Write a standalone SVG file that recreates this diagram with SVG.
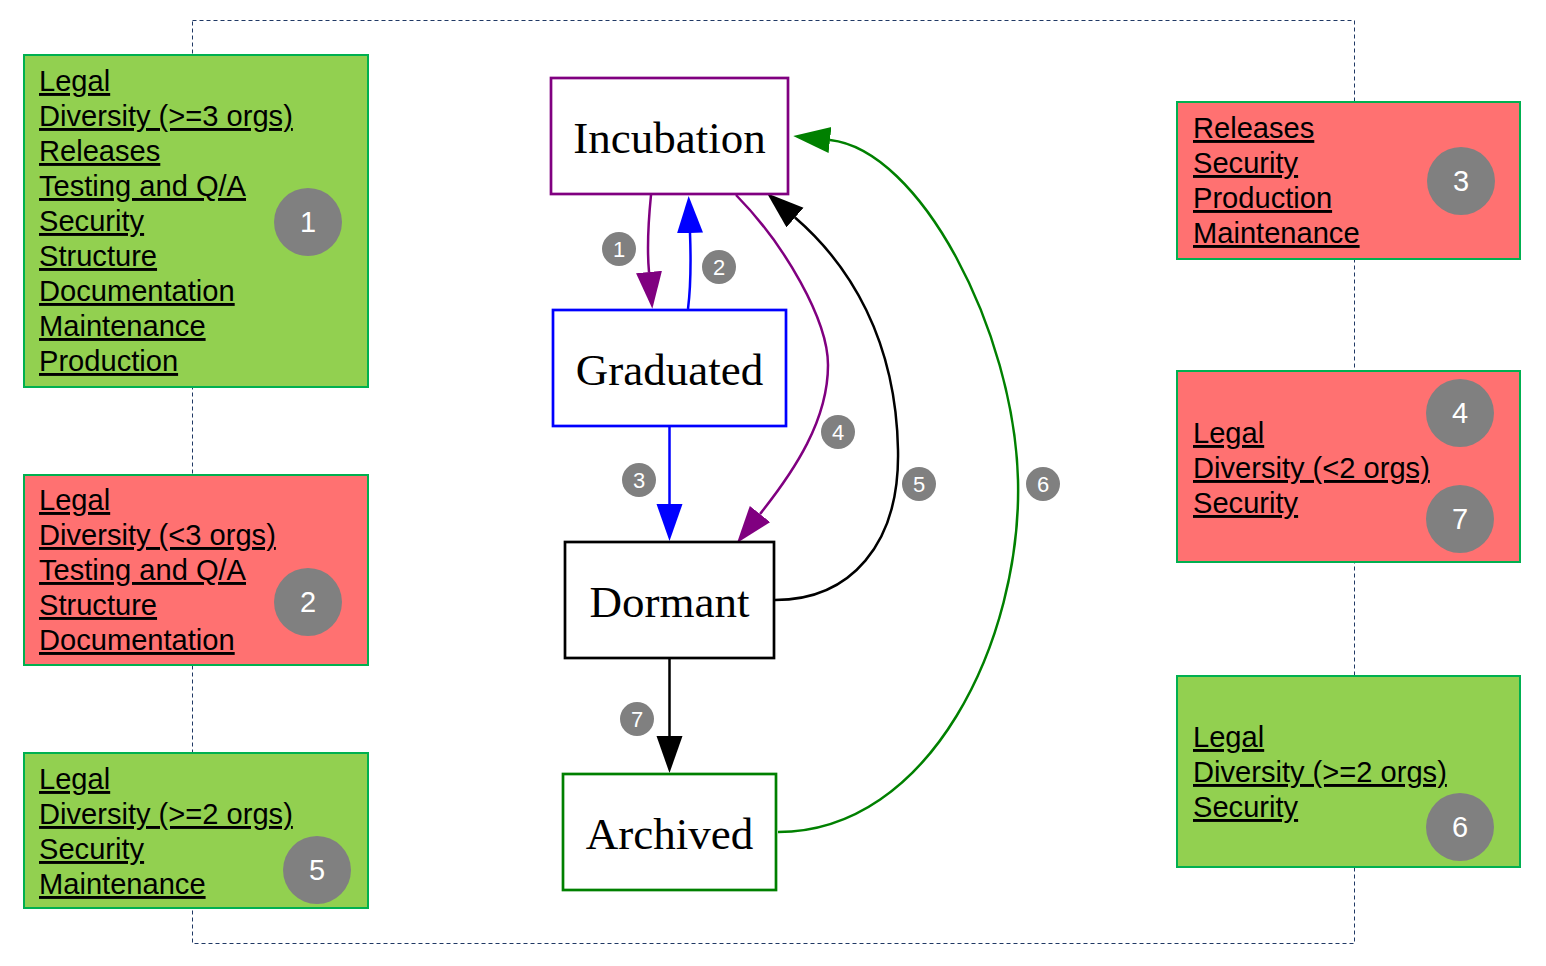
<svg xmlns="http://www.w3.org/2000/svg" width="1546" height="966" viewBox="0 0 1546 966">
<style>
.box{stroke:#00b050;stroke-width:2}
.g{fill:#92d050}
.r{fill:#ff7171}
.bt{font-family:"Liberation Sans",Arial,sans-serif;font-size:29.1px;fill:#000;text-decoration:underline}
.bc{fill:#808080}
.bn{font-family:"Liberation Sans",Arial,sans-serif;font-size:29px;fill:#fff;text-anchor:middle}
.node{fill:#fff;stroke-width:2.7}
.nt{font-family:"Liberation Serif","Times New Roman",serif;font-size:45px;fill:#000;text-anchor:middle}
.e{fill:none;stroke-width:2.5}
.lc{fill:#808080}
.ln{font-family:"Liberation Sans",Arial,sans-serif;font-size:22px;fill:#fff;text-anchor:middle}
</style>
<defs>
<marker id="aP" markerUnits="userSpaceOnUse" markerWidth="40" markerHeight="28" refX="0" refY="13" orient="auto"><path d="M0,0 L37,13 L0,26 z" fill="#800080"/></marker>
<marker id="aB" markerUnits="userSpaceOnUse" markerWidth="40" markerHeight="28" refX="0" refY="13" orient="auto"><path d="M0,0 L37,13 L0,26 z" fill="#0000ff"/></marker>
<marker id="aK" markerUnits="userSpaceOnUse" markerWidth="40" markerHeight="28" refX="0" refY="13" orient="auto"><path d="M0,0 L37,13 L0,26 z" fill="#000"/></marker>
<marker id="aG" markerUnits="userSpaceOnUse" markerWidth="40" markerHeight="28" refX="0" refY="13" orient="auto"><path d="M0,0 L37,13 L0,26 z" fill="#008000"/></marker>
</defs>
<rect width="1546" height="966" fill="#fff"/>
<rect id="frame" x="192.5" y="20.5" width="1162" height="923" fill="none" stroke="#1f3864" stroke-width="1" stroke-dasharray="4,3"/>

<g id="box1">
<rect class="box g" x="24" y="55" width="344" height="332"/>
<text class="bt" x="39" y="91">Legal</text>
<text class="bt" x="39" y="126">Diversity (&gt;=3 orgs)</text>
<text class="bt" x="39" y="161">Releases</text>
<text class="bt" x="39" y="196">Testing and Q/A</text>
<text class="bt" x="39" y="231">Security</text>
<text class="bt" x="39" y="266">Structure</text>
<text class="bt" x="39" y="301">Documentation</text>
<text class="bt" x="39" y="336">Maintenance</text>
<text class="bt" x="39" y="371">Production</text>
<circle class="bc" cx="308" cy="222" r="34"/>
<text class="bn" x="308" y="232">1</text>
</g>

<g id="box2">
<rect class="box r" x="24" y="475" width="344" height="190"/>
<text class="bt" x="39" y="510">Legal</text>
<text class="bt" x="39" y="545">Diversity (&lt;3 orgs)</text>
<text class="bt" x="39" y="580">Testing and Q/A</text>
<text class="bt" x="39" y="615">Structure</text>
<text class="bt" x="39" y="650">Documentation</text>
<circle class="bc" cx="308" cy="602" r="34"/>
<text class="bn" x="308" y="612">2</text>
</g>

<g id="box5">
<rect class="box g" x="24" y="753" width="344" height="155"/>
<text class="bt" x="39" y="789">Legal</text>
<text class="bt" x="39" y="824">Diversity (&gt;=2 orgs)</text>
<text class="bt" x="39" y="859">Security</text>
<text class="bt" x="39" y="894">Maintenance</text>
<circle class="bc" cx="317" cy="870" r="34"/>
<text class="bn" x="317" y="880">5</text>
</g>

<g id="box3">
<rect class="box r" x="1177" y="102" width="343" height="157"/>
<text class="bt" x="1193" y="138">Releases</text>
<text class="bt" x="1193" y="173">Security</text>
<text class="bt" x="1193" y="208">Production</text>
<text class="bt" x="1193" y="243">Maintenance</text>
<circle class="bc" cx="1461" cy="181" r="34"/>
<text class="bn" x="1461" y="191">3</text>
</g>

<g id="box47">
<rect class="box r" x="1177" y="371" width="343" height="191"/>
<text class="bt" x="1193" y="443">Legal</text>
<text class="bt" x="1193" y="478">Diversity (&lt;2 orgs)</text>
<text class="bt" x="1193" y="513">Security</text>
<circle class="bc" cx="1460" cy="413" r="34"/>
<text class="bn" x="1460" y="423">4</text>
<circle class="bc" cx="1460" cy="519" r="34"/>
<text class="bn" x="1460" y="529">7</text>
</g>

<g id="box6">
<rect class="box g" x="1177" y="676" width="343" height="191"/>
<text class="bt" x="1193" y="747">Legal</text>
<text class="bt" x="1193" y="782">Diversity (&gt;=2 orgs)</text>
<text class="bt" x="1193" y="817">Security</text>
<circle class="bc" cx="1460" cy="827" r="34"/>
<text class="bn" x="1460" y="837">6</text>
</g>

<g id="connectors">
<path class="e" stroke="#800080" d="M651,195 C648,225 647,250 649,272" marker-end="url(#aP)"/>
<path class="e" stroke="#0000ff" d="M688,309 C691,285 691,260 690,233" marker-end="url(#aB)"/>
<path class="e" stroke="#800080" d="M736,195 C785,245 828,320 828,365 C828,420 795,470 760,514" marker-end="url(#aP)"/>
<path class="e" stroke="#0000ff" d="M669.5,427 L669.5,504" marker-end="url(#aB)"/>
<path class="e" stroke="#000" d="M775,600 C850,600 900,545 898,450 C896,340 850,265 795,217.5" marker-end="url(#aK)"/>
<path class="e" stroke="#008000" d="M778,832 C930,832 1022,640 1018,480 C1014,330 920,150 830,140" marker-end="url(#aG)"/>
<path class="e" stroke="#000" d="M669.5,659 L669.5,736" marker-end="url(#aK)"/>
<g id="labels">
<circle class="lc" cx="619" cy="249" r="17"/><text class="ln" x="619" y="257">1</text>
<circle class="lc" cx="719" cy="267" r="17"/><text class="ln" x="719" y="275">2</text>
<circle class="lc" cx="639" cy="480" r="17"/><text class="ln" x="639" y="488">3</text>
<circle class="lc" cx="838" cy="432" r="17"/><text class="ln" x="838" y="440">4</text>
<circle class="lc" cx="919" cy="484" r="17"/><text class="ln" x="919" y="492">5</text>
<circle class="lc" cx="1043" cy="484" r="17"/><text class="ln" x="1043" y="492">6</text>
<circle class="lc" cx="637" cy="719" r="17"/><text class="ln" x="637" y="727">7</text>
</g>
</g>

<g id="incubation">
<rect class="node" stroke="#800080" x="551" y="78" width="237" height="116"/>
<text class="nt" x="669.5" y="153">Incubation</text>
</g>
<g id="graduated">
<rect class="node" stroke="#0000ff" x="553" y="310" width="233" height="116"/>
<text class="nt" x="669.5" y="385">Graduated</text>
</g>
<g id="dormant">
<rect class="node" stroke="#000" x="565" y="542" width="209" height="116"/>
<text class="nt" x="669.5" y="617">Dormant</text>
</g>
<g id="archived">
<rect class="node" stroke="#008000" x="563" y="774" width="213" height="116"/>
<text class="nt" x="669.5" y="849">Archived</text>
</g>
</svg>
